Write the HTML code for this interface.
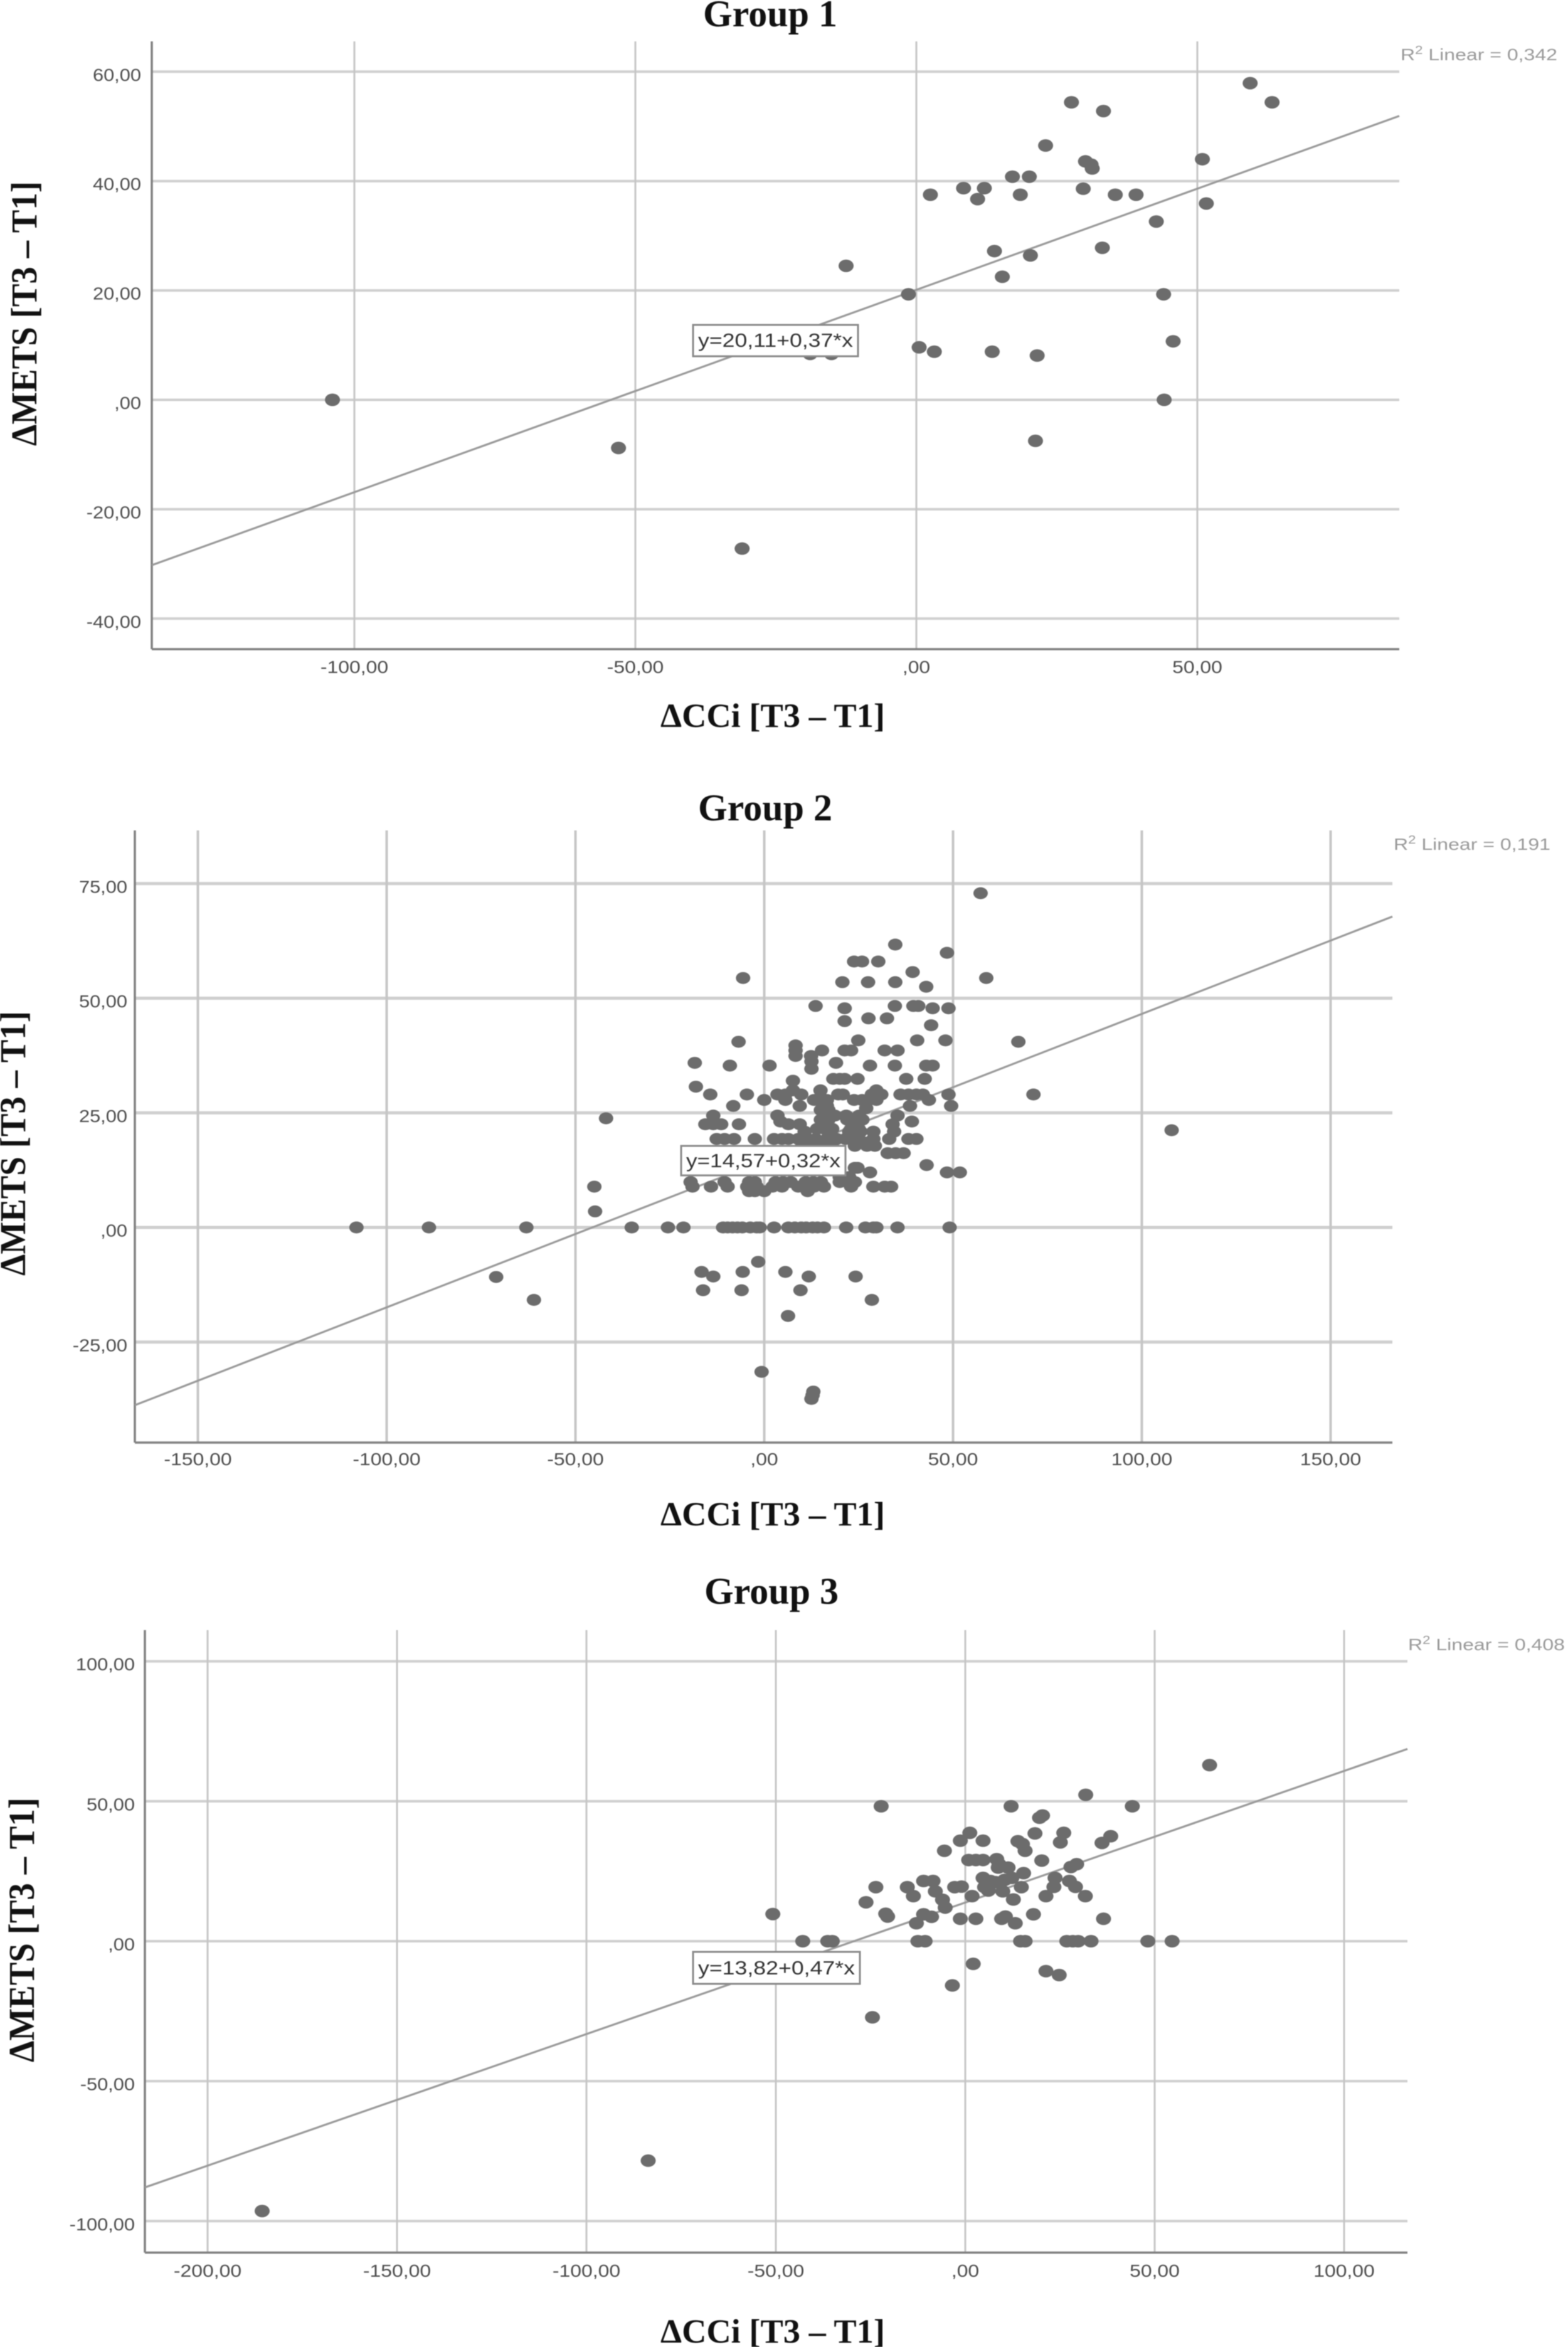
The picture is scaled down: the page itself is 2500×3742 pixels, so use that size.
<!DOCTYPE html>
<html lang="en">
<head>
<meta charset="utf-8">
<title>Scatter plots: ΔMETS vs ΔCCi by group</title>
<style>
html,body{margin:0;padding:0;background:#fff;}
svg{display:block;filter:blur(0.8px);}
</style>
</head>
<body>
<svg id="figure" xmlns="http://www.w3.org/2000/svg" width="2500" height="3742" viewBox="0 0 2500 3742"></svg>
<script>
// ---------- Group 1 data ----------
const group1X = [
-103.9,-53.0,-31.0,-12.5,-18.9,-15.1,-1.4,0.5,3.2,2.5,
8.4,10.9,12.1,13.9,15.3,13.5,17.1,18.5,20.1,20.3,
21.5,21.2,23.0,27.6,30.1,29.7,31.1,31.3,33.3,33.1,
35.4,39.1,42.7,44.0,44.1,45.7,50.9,51.6,59.4,63.3];
const group1Y = [
0,-8.8,-27.2,24.5,8.4,8.4,19.3,9.6,8.8,37.5,
38.7,36.7,38.7,27.2,22.5,8.8,40.8,37.5,40.8,26.4,
8.1,-7.5,46.5,54.4,43.6,38.6,43.0,42.3,52.8,27.8,
37.5,37.5,32.6,19.3,0,10.7,44.0,35.9,57.9,54.4];
const group1XTicks = [-100,-50,0,50];
const group1XTickLabels = ["-100,00","-50,00",",00","50,00"];
const group1YTicks = [60,40,20,0,-20,-40];
const group1YTickLabels = ["60,00","40,00","20,00",",00","-20,00","-40,00"];
const group1Fit = [20.11,0.37];

// ---------- Group 2 data ----------
const group2X = [
57.3,34.7,48.4,23.8,25.9,30.2,39.3,-5.6,58.8,20.7,27.5,34.7,42.9,
13.6,34.6,39.5,40.8,21.3,44.6,48.8,21.3,27.6,32.5,44.2,
24.9,40.5,48,-6.8,67.3,8.3,8.3,8.3,15.3,21.3,23,31.9,35.3,
12.4,12.5,12.5,-18.4,19,-9.1,1.4,28,34.6,42.9,44.6,
18.3,20,21.3,24.7,37.6,42.5,7.6,-18.1,14.9,29.7,7.6,
-14.3,-4.6,48.8,71.3,3.5,5.6,9.8,19.6,20.8,28.5,31,36.1,38.2,40.3,42,
0,5.6,13.2,14.9,16.6,23.8,25.9,27.6,29.7,43.6,
-8.2,9.4,16.6,38.6,49.5,
-13.5,3.5,16.2,18.7,21.7,25.1,35.3,-41.9,39.1,4.3,24.2,
-15.6,-13.5,-11.4,-6.7,6.4,9.4,16.2,24.2,34,107.9,
10.7,22.5,25.5,28.9,34.4,17,
-12.6,-10.5,-8,-2.5,2.6,4.7,6.4,9,11.5,13.6,16.6,19.2,23.4,28.9,33.1,38.2,40.3,21.5,25,
27.2,29.3,24,11,14,32.7,34.8,36.9,
-45,-19,-14.1,-9.7,-4.5,-2.9,-2,2.2,4.7,9,10.7,13.2,15.8,23,28.9,31.9,33.6,
-19.5,-10.5,-4,-2.5,3,5,7,11,13,15,20,22,24,
-4,-2.5,0,11.5,20,22.5,24.7,24,28,43,48.4,51.8,-44.8,
-108,-88.8,-63,-35.1,-25.5,-21.4,-10.9,-9.7,-8.4,-7.1,-5.8,-3.7,-2,-1.2,
2.6,6.4,8.1,9.8,11.1,12.8,14.1,15.8,21.7,26.8,28.9,29.7,35.3,49.1,
-71,-61,-1.6,-16.6,-5.7,5.6,-13.5,11.8,24.2,-16.2,-6,9.6,28.5,6.3,-0.7,13,12.8,12.5,
15,17,14,16,18,23,25,15,17,22,26,10,13,15,18,24,27,27];
const group2Y = [
72.9,61.7,59.9,58,58,58,55.7,54.4,54.4,53.5,53.5,53.5,52.5,
48.3,48.3,48.3,48.3,47.8,47.8,47.8,45,45.6,45.6,44.1,
40.8,40.8,40.8,40.5,40.5,39.7,38.6,37.4,38.6,38.6,38.6,38.6,38.6,
37.4,36.2,34.6,35.9,35.9,35.3,35.3,35.3,35.3,35.3,35.3,
32.4,32.4,32.4,32.4,32.4,32.4,32,30.7,29.9,29.9,29.9,
29,29,29,29,29,29,29,29,29,29,29,29,29,29,29,
27.8,27.8,27.8,27.8,27.8,27.8,27.8,27.8,27.8,27.8,
26.5,26.5,26.5,26.5,26.5,
24.4,24.4,24.4,24.4,24.4,24.4,24.4,23.8,23.1,23.1,23.1,
22.5,22.5,22.5,22.5,22.5,22.5,22.5,22.5,22.5,21.2,
20.9,20.9,20.9,20.9,20.9,20.9,
19.3,19.3,19.3,19.3,19.3,19.3,19.3,19.3,19.3,19.3,19.3,19.3,19.3,19.3,19.3,19.3,19.3,19.3,19.3,
17.8,17.8,17.8,17.8,17.8,16.2,16.2,16.2,
8.9,8.9,8.9,8.9,8.9,8.9,8.9,8.9,8.9,8.9,8.9,8.9,8.9,8.9,8.9,8.9,8.9,
9.9,9.9,9.9,9.9,9.9,9.9,9.9,9.9,9.9,9.9,9.9,9.9,9.9,
7.9,7.9,7.9,7.9,11,11,13,13,12,13.6,12,12,3.5,
0,0,0,0,0,0,0,0,0,0,0,0,0,0,
0,0,0,0,0,0,0,0,0,0,0,0,0,0,
-10.8,-15.8,-7.5,-9.7,-9.7,-9.7,-10.7,-10.7,-10.7,-13.7,-13.7,-13.7,-15.8,-19.3,-31.5,-35.8,-36.6,-37.4,
25.6,25.6,21.5,21.5,21.5,21.5,21.5,23.5,23.5,23.5,23.5,18.5,18.5,18.5,18.5,18.5,18.5,26];
const group2XTicks = [-150,-100,-50,0,50,100,150];
const group2XTickLabels = ["-150,00","-100,00","-50,00",",00","50,00","100,00","150,00"];
const group2YTicks = [75,50,25,0,-25];
const group2YTickLabels = ["75,00","50,00","25,00",",00","-25,00"];
const group2Fit = [14.57,0.32];

// ---------- Group 3 data ----------
const group3X = [
64.5,31.8,-22.2,12.1,44.1,20.4,19.6,18.4,26,25.1,
1.2,-1.3,4.7,13.9,15.1,15.8,-5.5,38.4,36.1,0.9,
2.8,4.7,8.3,8.7,8.9,11.3,20.2,27.9,29.4,15.4,
23.7,23.4,21.3,27.5,29.1,31.7,12.3,4.7,6.6,10.4,
5.1,8,6.1,9.9,14.8,12.7,1.8,-11,-8.5,-23.6,
-15.3,-13.7,-7.9,-2.8,-1,-6,-5.3,-26.2,-21,-20.5,
-11,-8.9,-12.9,-1.3,2.8,9.6,10.6,13.2,18,36.5,
-50.8,-42.9,-36.3,-35.1,-12.5,-10.6,14.6,15.8,26.8,28.4,
29.8,33.2,48.2,54.6,2.1,21.3,24.8,-3.4,-24.5,-83.7,-185.6];
const group3Y = [
62.9,52.3,48.2,48.2,48.2,44.9,44.1,38.5,38.7,35.3,
38.7,35.9,35.9,35.7,34.7,32.3,32.3,37.5,35.1,29,
29,29,29.3,26.3,27.5,26.3,28.8,26.5,27.5,24.3,
22.6,19.4,16.1,21.5,19.4,16.1,22.6,22.6,21.5,21.9,
19.3,21.1,18.1,17.8,19.3,14.9,16.1,21.5,21.5,19.3,
19.3,16.1,17.8,19.3,19.5,14.8,12,13.9,9.8,8.8,
9.6,8.7,6.4,8,8,8,8.8,6.4,9.6,8,
9.7,0,0,0,0,0,0,0,0,0,
0,0,0,0,-8.1,-10.7,-12.1,-15.8,-27.2,-78.4,-96.4];
const group3XTicks = [-200,-150,-100,-50,0,50,100];
const group3XTickLabels = ["-200,00","-150,00","-100,00","-50,00",",00","50,00","100,00"];
const group3YTicks = [100,50,0,-50,-100];
const group3YTickLabels = ["100,00","50,00",",00","-50,00","-100,00"];
const group3Fit = [13.82,0.47];

// ---------- Layout (not data) ----------
const svgNS = "http://www.w3.org/2000/svg";
const figure = document.getElementById("figure");
const SERIF = '"Liberation Serif", serif';
const SANS = '"Liberation Sans", sans-serif';

const charts = [
 {id:"group-1",title:"Group 1",xs:group1X,ys:group1Y,xt:group1XTicks,xl:group1XTickLabels,yt:group1YTicks,yl:group1YTickLabels,fit:group1Fit,
  r2:"0,342",eq:"y=20,11+0,37*x",
  left:242,right:2231,top:66,bottom:1035,x0:1461,xPer:8.96,y0:637.5,yPer:8.72,
  titleX:1228,titleY:42,xLabelY:1159,yLabelX:58,yLabelY:500,tickRight:225,xTickY:1073,
  r2X:2233,r2Y:96,box:[1105,518,263,50],eqY:553,rx:12,ry:10,gridH:4,gridV:3},
 {id:"group-2",title:"Group 2",xs:group2X,ys:group2Y,xt:group2XTicks,xl:group2XTickLabels,yt:group2YTicks,yl:group2YTickLabels,fit:group2Fit,
  r2:"0,191",eq:"y=14,57+0,32*x",
  left:215,right:2220,top:1324,bottom:2300,x0:1218.5,xPer:6.02,y0:1957,yPer:7.31,
  titleX:1220,titleY:1308,xLabelY:2432,yLabelX:40,yLabelY:1823,tickRight:203,xTickY:2336,
  r2X:2222,r2Y:1355,box:[1086,1827,262,47],eqY:1861,rx:11.5,ry:9.5,gridH:5,gridV:4},
 {id:"group-3",title:"Group 3",xs:group3X,ys:group3Y,xt:group3XTicks,xl:group3XTickLabels,yt:group3YTicks,yl:group3YTickLabels,fit:group3Fit,
  r2:"0,408",eq:"y=13,82+0,47*x",
  left:231,right:2244,top:2599,bottom:3591.5,x0:1539,xPer:6.04,y0:3095,yPer:4.463,
  titleX:1230,titleY:2557,xLabelY:3735,yLabelX:54,yLabelY:3077,tickRight:215,xTickY:3630,
  r2X:2245,r2Y:2631,box:[1105,3112,266,51],eqY:3148,rx:12,ry:10,gridH:4,gridV:3}
];

function make(tag, attrs, parent, text){
  const el = document.createElementNS(svgNS, tag);
  for (const k in attrs) el.setAttribute(k, attrs[k]);
  if (text !== undefined) el.textContent = text;
  parent.appendChild(el);
  return el;
}

charts.forEach(function(c){
  const sx = function(v){ return c.x0 + v * c.xPer; };
  const sy = function(v){ return c.y0 - v * c.yPer; };
  const xMin = (c.left - c.x0) / c.xPer;
  const xMax = (c.right - c.x0) / c.xPer;

  const g = make("g", {}, figure);
  
  

  const title = make("text", {x:c.titleX,y:c.titleY,"text-anchor":"middle","font-family":SERIF,"font-weight":"bold","font-size":60,fill:"#111"}, g, c.title);
  
  

  // grid
  c.yt.forEach(function(v){
    const gl = make("line", {x1:c.left,x2:c.right,y1:sy(v),y2:sy(v),stroke:"#cfcfcf","stroke-width":c.gridH}, g);
    
    
  });
  c.xt.forEach(function(v){
    const gl = make("line", {x1:sx(v),x2:sx(v),y1:c.top,y2:c.bottom,stroke:"#c6c6c6","stroke-width":c.gridV}, g);
    
    
  });

  // axes
  const yAxis = make("line", {x1:c.left,x2:c.left,y1:c.top,y2:c.bottom,stroke:"#808080","stroke-width":3.5}, g);
  
  
  const xAxis = make("line", {x1:c.left,x2:c.right,y1:c.bottom,y2:c.bottom,stroke:"#808080","stroke-width":3.5}, g);
  
  

  // tick labels
  c.yt.forEach(function(v,i){
    const t = make("text", {transform:"translate("+c.tickRight+","+(sy(v)+14.5)+") scale(1.1,1)","text-anchor":"end","font-family":SANS,"font-size":28,fill:"#4d4d4d"}, g, c.yl[i]);
    
    
  });
  c.xt.forEach(function(v,i){
    const t = make("text", {transform:"translate("+sx(v)+","+c.xTickY+") scale(1.14,1)","text-anchor":"middle","font-family":SANS,"font-size":28,fill:"#4d4d4d"}, g, c.xl[i]);
    
    
  });

  // fit line
  const fitLine = make("line", {x1:sx(xMin),y1:sy(c.fit[0]+c.fit[1]*xMin),x2:sx(xMax),y2:sy(c.fit[0]+c.fit[1]*xMax),stroke:"#9a9a9a","stroke-width":3.2}, g);
  
  

  // points
  const n = Math.min(c.xs.length, c.ys.length);
  for (let i = 0; i < n; i++){
    const p = make("ellipse", {cx:sx(c.xs[i]),cy:sy(c.ys[i]),rx:c.rx,ry:c.ry,fill:"#6c6c6c"}, g);
    
    
  }

  // equation box
  const box = make("rect", {x:c.box[0],y:c.box[1],width:c.box[2],height:c.box[3],fill:"#fff",stroke:"#8a8a8a","stroke-width":3}, g);
  
  
  const eq = make("text", {x:c.box[0]+c.box[2]/2,y:c.eqY,"text-anchor":"middle","font-family":SANS,"font-size":31,fill:"#333",textLength:c.box[2]-16,lengthAdjust:"spacingAndGlyphs"}, g, c.eq);
  
  

  // R² label
  const r2 = make("text", {x:c.r2X,y:c.r2Y,"font-family":SANS,"font-size":26,fill:"#9a9a9a",textLength:250,lengthAdjust:"spacingAndGlyphs"}, g);
  
  
  make("tspan", {}, r2, "R");
  make("tspan", {dy:-10,"font-size":18}, r2, "2");
  make("tspan", {dy:10}, r2, " Linear = " + c.r2);

  // axis titles
  const xTitle = make("text", {x:1232,y:c.xLabelY,"text-anchor":"middle","font-family":SERIF,"font-weight":"bold","font-size":54,fill:"#111",textLength:358,lengthAdjust:"spacingAndGlyphs"}, g, "ΔCCi [T3 – T1]");
  
  
  const yTitle = make("text", {transform:"translate("+c.yLabelX+","+c.yLabelY+") rotate(-90) scale(1,1.05)","text-anchor":"middle","font-family":SERIF,"font-weight":"bold","font-size":55,fill:"#111",textLength:422,lengthAdjust:"spacingAndGlyphs"}, g, "ΔMETS [T3 – T1]");
  
  
});
</script>
</body>
</html>
